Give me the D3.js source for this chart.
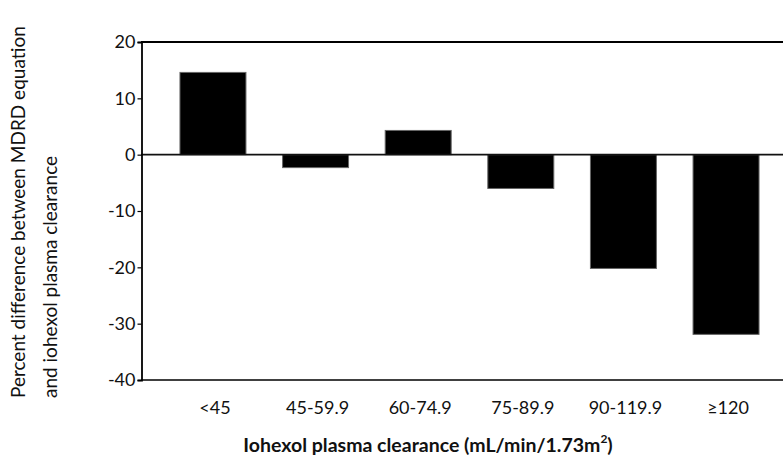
<!DOCTYPE html>
<html>
    <head>
        <meta charset="utf-8">
        <script src="https://d3js.org/d3.v7.min.js"></script>
        <style>
          body { margin: 0; background: white; }
          text { font-family: Lato, "Open Sans", sans-serif; fill: #111; }
        </style>
    </head>
    <body>
        <div id="chart"></div>
        <script>
            // values
            const categories = ["<45", "45-59.9", "60-74.9", "75-89.9", "90-119.9", "\u2265120"];
            const pctDiff = [14.6, -2.3, 4.3, -6.0, -20.2, -31.9];
            const yTicks = [-40, -30, -20, -10, 0, 10, 20];

            const width = 783,
                height = 455;

            const svg = d3.select("#chart")
              .append("svg")
                .attr("width", width)
                .attr("height", height);

            // scales
            const y = d3.scaleLinear()
              .domain([-40, 20])
              .range([380, 42]);

            const x = d3.scaleBand()
              .domain(categories)
              .range([142, 797])
              .paddingInner(0.357)
              .paddingOuter(0.37);

            // frame lines: top border and bottom border
            svg.append("line")
              .attr("x1", 141).attr("x2", width)
              .attr("y1", y(20)).attr("y2", y(20))
              .attr("stroke", "#000").attr("stroke-width", 2.2);

            svg.append("line")
              .attr("x1", 141).attr("x2", width)
              .attr("y1", y(-40)).attr("y2", y(-40))
              .attr("stroke", "#000").attr("stroke-width", 1.6);

            // bars
            svg.selectAll("rect.bar")
              .data(pctDiff)
              .join("rect")
                .attr("class", "bar")
                .attr("x", (d, i) => x(categories[i]))
                .attr("width", x.bandwidth())
                .attr("y", d => y(Math.max(0, d)))
                .attr("height", d => Math.abs(y(d) - y(0)))
                .attr("fill", "#000")
                .attr("stroke", "#666")
                .attr("stroke-width", 1);

            // zero line
            svg.append("line")
              .attr("x1", 141).attr("x2", width)
              .attr("y1", y(0)).attr("y2", y(0))
              .attr("stroke", "#111").attr("stroke-width", 1.6);

            // y axis
            const yAxis = svg.append("g")
              .attr("transform", "translate(141.5,0)")
              .call(d3.axisLeft(y).tickValues(yTicks).tickSize(4).tickPadding(2).tickFormat(d => String(d)));
            yAxis.select(".domain").attr("stroke", "#000").attr("stroke-width", 1.8);
            yAxis.selectAll(".tick line").attr("stroke", "#000").attr("stroke-width", 1.2);
            yAxis.selectAll(".tick text")
              .style("font-size", "18px")
              .style("font-family", "Lato, sans-serif")
              .attr("fill", "#111");

            // x labels
            const xAxis = svg.append("g")
              .attr("transform", "translate(2,395)")
              .call(d3.axisBottom(x).tickSize(0).tickPadding(6));
            xAxis.select(".domain").remove();
            xAxis.selectAll(".tick text")
              .style("font-size", "18px")
              .style("font-family", "Lato, sans-serif")
              .attr("fill", "#111");

            // x title
            const xTitle = svg.append("text")
              .attr("x", 428)
              .attr("y", 452)
              .attr("text-anchor", "middle")
              .style("font-size", "19.5px")
              .style("font-weight", "bold");
            xTitle.append("tspan").text("Iohexol plasma clearance (mL/min/1.73m");
            xTitle.append("tspan").attr("dy", -9).style("font-size", "12px").text("2");
            xTitle.append("tspan").attr("dy", 9).text(")");

            // y title, two lines
            const yTitle = svg.append("g")
              .attr("transform", "translate(0,398) rotate(-90)");
            yTitle.append("text")
              .attr("x", 0).attr("y", 25)
              .style("font-size", "19px")
              .text("Percent difference between MDRD equation");
            yTitle.append("text")
              .attr("x", 0).attr("y", 57)
              .style("font-size", "19px")
              .text("and iohexol plasma clearance");
        </script>
    </body>
</html>
